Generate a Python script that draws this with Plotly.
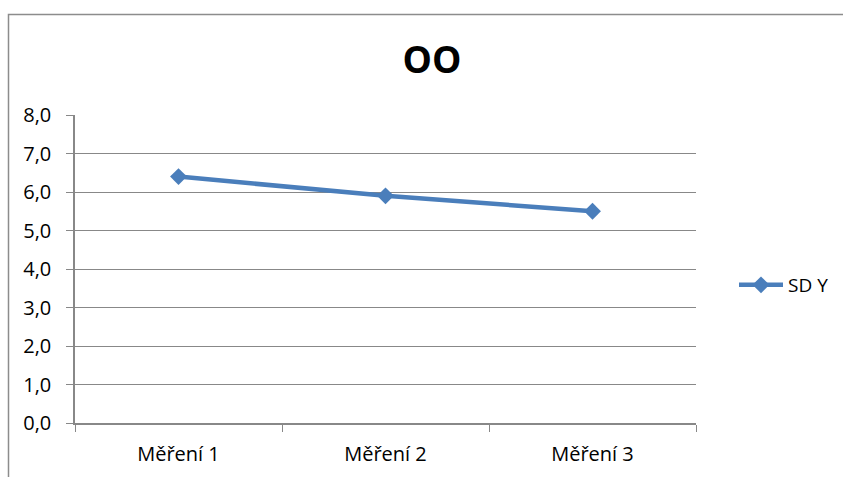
import plotly.graph_objects as go

# Measurement categories and the SD Y series
categories = ["Měření 1", "Měření 2", "Měření 3"]
sd_y = [6.4, 5.9, 5.5]
y_ticks = [0, 1, 2, 3, 4, 5, 6, 7, 8]
y_tick_labels = ["0,0", "1,0", "2,0", "3,0", "4,0", "5,0", "6,0", "7,0", "8,0"]

W, H = 843, 477
L, R, T, B = 75, 147, 115, 54
GRID = "#888888"
FONT = "Open Sans"

fig = go.Figure()
fig.add_trace(go.Scatter(
    x=categories, y=sd_y, name="SD Y", mode="lines+markers",
    line=dict(color="#4A7EBB", width=4.5),
    marker=dict(symbol="diamond", size=13, color="#4A7EBB"),
))

pw, ph = W - L - R, H - T - B
fig.update_layout(
    width=W, height=H,
    margin=dict(l=L, r=R, t=T, b=B, autoexpand=False),
    paper_bgcolor="white", plot_bgcolor="white",
    font=dict(family=FONT, size=20, color="black"),
    title=dict(text="<b>OO</b>", x=432 / W, xanchor="center",
               y=1 - 60 / H, yanchor="middle",
               font=dict(family=FONT, size=37, color="black")),
    showlegend=True,
    legend=dict(x=(734 - L) / pw, y=(H - B - 285) / ph, xanchor="left",
                yanchor="middle", font=dict(size=19), itemwidth=44,
                bgcolor="rgba(0,0,0,0)"),
    xaxis=dict(type="category", range=[-0.5, 2.5], showgrid=False,
               showline=True, linecolor=GRID, linewidth=1.5,
               ticks="outside", tickson="boundaries", ticklen=7,
               tickcolor=GRID, ticklabelstandoff=12, fixedrange=True,
               automargin=False),
    yaxis=dict(range=[0, 8], tickvals=y_ticks, ticktext=y_tick_labels,
               showgrid=True, gridcolor=GRID, gridwidth=1.2,
               showline=True, linecolor=GRID, linewidth=1.5,
               zeroline=False, ticks="outside", ticklen=7, tickcolor=GRID,
               ticklabelstandoff=11, fixedrange=True, automargin=False),
)

# Outer chart frame (top and left edges visible inside the window)
fig.add_shape(type="rect", xref="paper", yref="paper",
              x0=(8.5 - L) / pw, x1=(W + 20 - L) / pw,
              y0=(H - B - (H + 20)) / ph, y1=(H - B - 14.5) / ph,
              line=dict(color="#8c8c8c", width=1.5), layer="below")

fig.write_html("out.html")
